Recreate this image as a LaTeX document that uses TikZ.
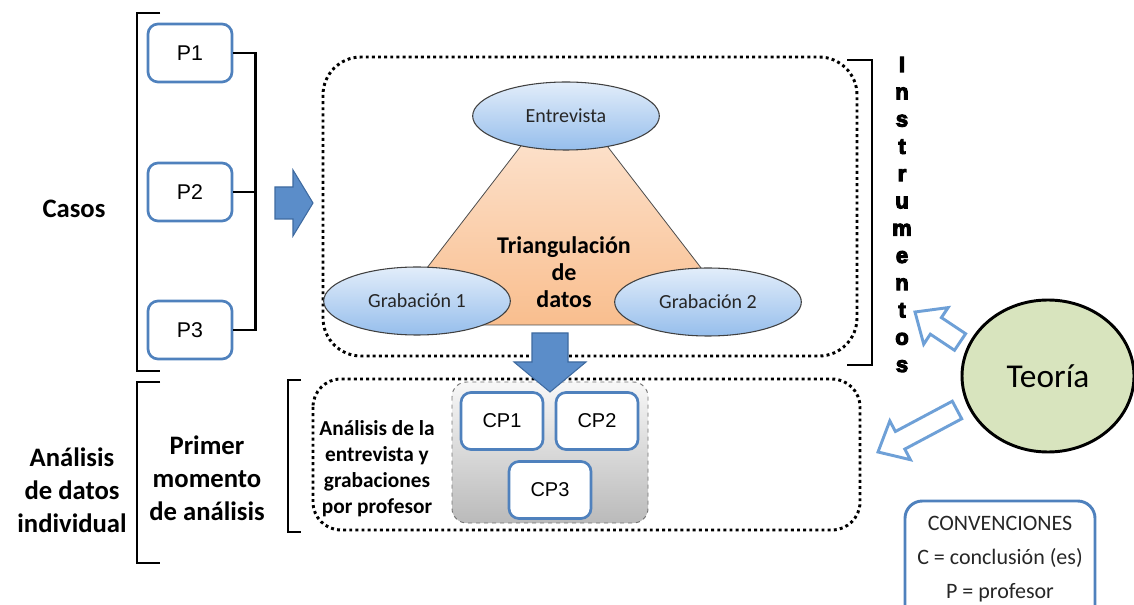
\documentclass[tikz,border=0pt]{standalone}
\usepackage{fontspec}
\setmainfont{Carlito}
\newfontfamily\arialfont{Liberation Sans}
\newfontfamily\heavyfont{Liberation Sans}[BoldFeatures={FakeBold=5}]
\usetikzlibrary{shapes.geometric}

\definecolor{boxblue}{RGB}{79,129,189}
\definecolor{arrowfill}{RGB}{91,141,201}
\definecolor{arrowdraw}{RGB}{62,106,160}
\definecolor{lightarrow}{RGB}{110,160,215}
\definecolor{teoriafill}{RGB}{216,228,190}
\definecolor{ovaltop}{RGB}{226,237,250}
\definecolor{ovalbottom}{RGB}{150,190,236}
\definecolor{tritop}{RGB}{253,234,219}
\definecolor{tribottom}{RGB}{249,190,142}

\begin{document}
\begin{tikzpicture}[x=0.75pt,y=-0.75pt,
  pbox/.style={draw=boxblue, line width=2pt, rounded corners=7.5pt, fill=white,
    minimum width=63pt, minimum height=43.5pt, inner sep=0pt,
    font=\arialfont\fontsize{16}{19}\selectfont},
  cpbox/.style={pbox, minimum width=61.5pt, minimum height=42.75pt,
    font=\arialfont\fontsize{15}{18}\selectfont},
  bracket/.style={line width=2.2pt, black},
  dotframe/.style={line width=2.2pt, dash pattern=on 2.2pt off 2.4pt},
  oval/.style={ellipse, draw=black!75, line width=0.8pt, top color=ovaltop,
    bottom color=ovalbottom, minimum width=140pt, minimum height=51pt,
    inner sep=0pt, text=black!85, font=\fontsize{15}{18}\selectfont},
  blockarrow/.style={fill=arrowfill, draw=arrowdraw, line width=0.8pt, line join=miter},
  hollowarrow/.style={fill=white, draw=lightarrow, line width=2.2pt, line join=miter},
  boldtext/.style={align=center, anchor=base, font=\bfseries\fontsize{20}{24.75}\selectfont},
]
\useasboundingbox (0,0) rectangle (1134,605);

% ---------- Casos ----------
% (multi-line nodes are placed by the baseline of their last line)
\node[boldtext] (casos) at (74,218) {Casos};
\draw[bracket] (160,13) -- (137,13) -- (137,371) -- (160,371);
\node[pbox] (P1) at (190,53) {P1};
\node[pbox] (P2) at (190,192) {P2};
\node[pbox] (P3) at (190,330) {P3};
\draw[bracket, line width=2pt] (P1.east) -- ++(22,0) coordinate (jt) |- (P3.east);
\draw[bracket, line width=2pt] (P2.east) -- (P2.east -| jt);

% arrow towards the instruments
\draw[blockarrow] (275,187) -- (293,187) -- (293,170) -- (313,203) -- (293,236)
  -- (293,219) -- (275,219) -- cycle;

% ---------- Instrumentos ----------
\draw[dotframe, rounded corners=28.5pt] (323,57) rectangle (857,356);
\draw[bracket] (847,60) -- (872,60) -- (872,365) -- (847,365);
\foreach \ch [count=\i from 0] in {I,n,s,t,r,u,m,e,n,t,o,s}
  \node[anchor=base, inner sep=0pt, font=\heavyfont\bfseries\fontsize{16.5}{20}\selectfont]
    (ins\i) at (902,{72+27.27*\i}) {\ch};

% triangle of data sources
\draw[black!70, line width=0.6pt, top color=tritop, bottom color=tribottom]
  (564,90) -- (383,325) -- (745,325) -- cycle;
\node[boldtext, font=\bfseries\fontsize{18}{20.6}\selectfont] (tri) at (564,308)
  {Triangulación\\de\\datos};
\node[oval] (entrevista) at (566,116) {Entrevista};
\node[oval] (grab1) at (417,301) {Grabación 1};
\node[oval] (grab2) at (708,302) {Grabación 2};

% ---------- Primer momento de análisis ----------
\node[boldtext] (analisis) at (72,532) {Análisis\\de datos\\individual};
\draw[bracket] (160,382) -- (137,382) -- (137,563) -- (160,563);
\node[boldtext] (primer) at (207,520) {Primer\\momento\\de análisis};
\draw[bracket] (301,380) -- (288,380) -- (288,532) -- (301,532);
\draw[dotframe, rounded corners=21pt] (313,379) rectangle (860,530);
\node[boldtext, font=\bfseries\fontsize{16}{19.5}\selectfont] (porprof) at (377,513)
  {Análisis de la\\entrevista y\\grabaciones\\por profesor};
\draw[black!55, dashed, line width=0.7pt, rounded corners=11pt,
  top color=black!3, bottom color=black!27] (452,382) rectangle (648,523);
\node[cpbox] (CP1) at (502,421) {CP1};
\node[cpbox] (CP2) at (597,421) {CP2};
\node[cpbox] (CP3) at (550,490) {CP3};

% arrow from the triangulation down to the analysis
\draw[blockarrow] (532,333) -- (568,333) -- (568,362) -- (586,362) -- (550,392)
  -- (514,362) -- (532,362) -- cycle;

% ---------- Teoría ----------
\node[ellipse, draw=black, line width=2.2pt, fill=teoriafill, minimum width=129pt,
  minimum height=114pt, inner sep=0pt, font=\fontsize{25}{30}\selectfont]
  (teoria) at (1048,376) {Teoría};
\draw[hollowarrow] (965.6,333.7) -- (941.4,317.6) -- (948.1,307.6) -- (915,312)
  -- (923.7,344.2) -- (930.3,334.2) -- (954.5,350.3) -- cycle;
\draw[hollowarrow] (961.7,418.8) -- (904.8,449.1) -- (910.4,459.7) -- (878,452)
  -- (889.8,420.9) -- (895.4,431.5) -- (952.3,401.2) -- cycle;

% ---------- Convenciones ----------
\draw[draw=boxblue, line width=2.2pt, rounded corners=13pt] (905,501) rectangle (1095,630);
\node[align=center, anchor=base, font=\fontsize{16.5}{25.5}\selectfont, text=black!85]
  (conv) at (1000,598) {CONVENCIONES\\C = conclusión (es)\\P = profesor};
\end{tikzpicture}
\end{document}
